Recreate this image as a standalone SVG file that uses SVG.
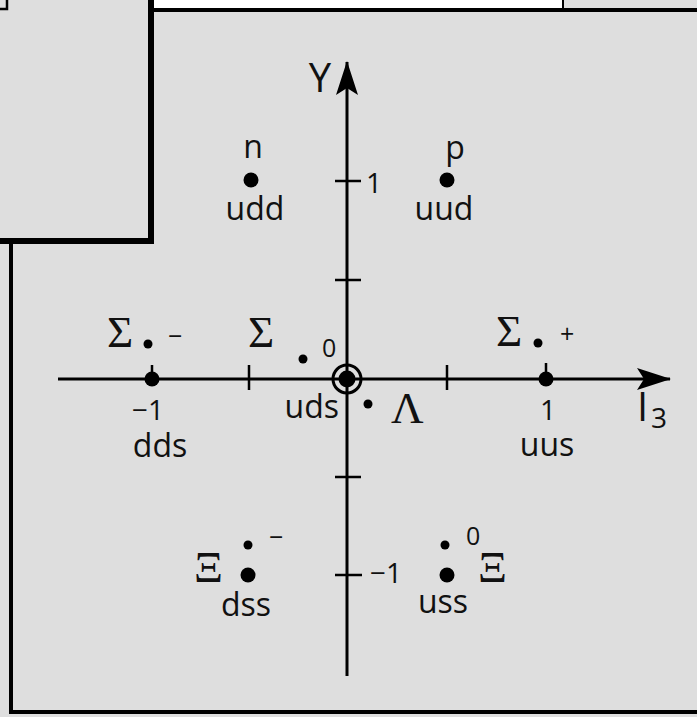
<svg xmlns="http://www.w3.org/2000/svg" width="697" height="717" viewBox="0 0 697 717">
<defs>
<style>
.frame{fill:none;stroke:#000;stroke-linecap:square}
.axis{fill:none;stroke:#000;stroke-width:3}
.tick{fill:none;stroke:#000;stroke-width:2.5}
.q{font-family:"Open Sans","Noto Sans","Liberation Sans",sans-serif;font-size:32px;fill:#111}
.num{font-family:"Open Sans","Noto Sans","Liberation Sans",sans-serif;font-size:28px;fill:#111}
.sup{font-family:"Open Sans","Noto Sans","Liberation Sans",sans-serif;font-size:25px;fill:#111}
.ax{font-family:"Open Sans","Noto Sans","Liberation Sans",sans-serif;font-size:40px;fill:#111}
.g{font-family:"Liberation Serif","Times New Roman",serif;font-size:45px;fill:#111}
.big{fill:#000}
.sm{fill:#000}
</style>
<marker id="arr" viewBox="0 0 34 24" refX="33" refY="12" markerWidth="34" markerHeight="24" markerUnits="userSpaceOnUse" orient="auto">
<path d="M34,12 L0,1 L7,12 L0,23 Z" fill="#000"/>
</marker>
</defs>
<rect x="0" y="0" width="697" height="717" fill="#dedede"/>
<g id="frames">
<rect x="154" y="0" width="409" height="8" fill="#fff"/>
<path class="frame" d="M151,0 V241 H0" stroke-width="6"/>
<path class="frame" d="M151,10 H697" stroke-width="4"/>
<path class="frame" d="M11,244 V712 H697" stroke-width="4"/>
<path class="frame" d="M563,0 V8" stroke-width="2"/>
<path class="frame" d="M7,0 V9 H0" stroke-width="2.5"/>
</g>
<g id="connectors">
<line class="axis" x1="58" y1="379" x2="670" y2="379" marker-end="url(#arr)"/>
<line class="axis" x1="347" y1="676" x2="347" y2="62" marker-end="url(#arr)"/>
<path class="tick" d="M249,365 V390 M447,365 V390 M152,365 V379 M546,363 V379 M335,181 H361 M335,280 H361 M335,477 H361 M335,575 H362"/>
</g>
<g id="axis-labels">
<text class="ax" x="320" y="92" text-anchor="middle">Y</text>
<text class="ax" x="637" y="421">I</text>
<text class="num" x="651" y="428">3</text>
<text class="num" x="366" y="193">1</text>
<text class="num" x="370" y="583">−1</text>
<text class="num" x="148" y="420" text-anchor="middle">−1</text>
<text class="num" x="548" y="420" text-anchor="middle">1</text>
</g>
<g id="node-n">
<circle class="big" cx="251" cy="180" r="7.5"/>
<text class="q" x="253" y="158" text-anchor="middle">n</text>
<text class="q" x="255" y="220" text-anchor="middle">udd</text>
</g>
<g id="node-p">
<circle class="big" cx="447" cy="180" r="7.5"/>
<text class="q" x="455" y="159" text-anchor="middle">p</text>
<text class="q" x="444" y="220" text-anchor="middle">uud</text>
</g>
<g id="node-sigma-minus">
<circle class="big" cx="152" cy="379" r="7.5"/>
<circle class="sm" cx="148" cy="344" r="4.5"/>
<text class="g" x="107" y="347">Σ</text>
<text class="sup" x="168" y="345">−</text>
<text class="q" x="160" y="457" text-anchor="middle">dds</text>
</g>
<g id="node-sigma-zero">
<circle class="sm" cx="303" cy="359" r="4.5"/>
<text class="g" x="248" y="347">Σ</text>
<text class="sup" x="322" y="357">0</text>
</g>
<g id="node-center">
<circle cx="347" cy="379" r="14" fill="none" stroke="#000" stroke-width="3"/>
<circle class="big" cx="347" cy="379" r="8.5"/>
<text class="q" x="339" y="418" text-anchor="end">uds</text>
</g>
<g id="node-lambda">
<circle class="sm" cx="368" cy="404" r="4.5"/>
<text class="g" x="391" y="423">Λ</text>
</g>
<g id="node-sigma-plus">
<circle class="big" cx="546" cy="379" r="7.5"/>
<circle class="sm" cx="538" cy="343" r="4.5"/>
<text class="g" x="496" y="346">Σ</text>
<text class="sup" x="560" y="343">+</text>
<text class="q" x="547" y="456" text-anchor="middle">uus</text>
</g>
<g id="node-xi-minus">
<circle class="big" cx="248" cy="575" r="7.5"/>
<circle class="sm" cx="248" cy="545" r="4.5"/>
<text class="g" x="194" y="582">Ξ</text>
<text class="sup" x="269" y="546">−</text>
<text class="q" x="246" y="616" text-anchor="middle">dss</text>
</g>
<g id="node-xi-zero">
<circle class="big" cx="447" cy="575" r="7.5"/>
<circle class="sm" cx="445" cy="545" r="4.5"/>
<text class="g" x="478" y="582">Ξ</text>
<text class="sup" x="466" y="545">0</text>
<text class="q" x="443" y="613" text-anchor="middle">uss</text>
</g>
</svg>
